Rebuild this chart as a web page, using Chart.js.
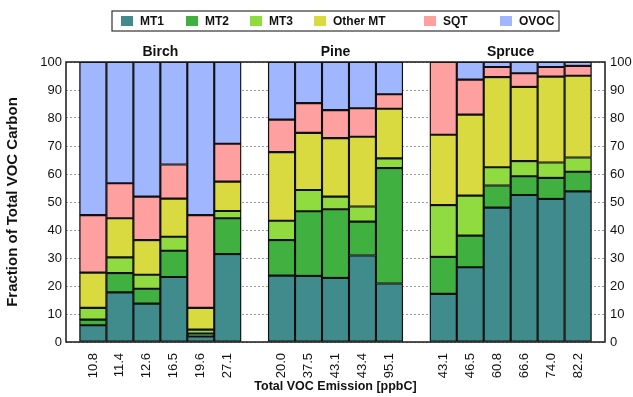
<!DOCTYPE html>
<html>
<head>
<meta charset="utf-8">
<script src="https://cdn.jsdelivr.net/npm/chart.js@4.4.1/dist/chart.umd.min.js"></script>
<style>
  html, body { margin: 0; padding: 0; background: #fff; }
  #wrap { width: 633px; height: 397px; }
</style>
</head>
<body>
<div id="wrap"><canvas id="c" width="633" height="397"></canvas></div>
<script>
// Total VOC emission per sample (ppbC); empty labels separate the tree species
const emissions = ['10.8', '11.4', '12.6', '16.5', '19.6', '27.1', '',
                   '20.0', '37.5', '43.1', '43.4', '95.1', '',
                   '43.1', '46.5', '60.8', '66.6', '74.0', '82.2'];

// Tree species and the category index range each one covers
const species = ['Birch', 'Pine', 'Spruce'];
const speciesFirst = [0, 7, 13];
const speciesLast = [5, 11, 18];

// Fraction of total VOC carbon (%) for each compound class
const mt1     = [6.0, 17.7, 13.7, 23.2, 2.0, 31.4, null, 23.7, 23.6, 22.9, 30.9, 20.9, null, 17.2, 26.7, 48.0, 52.5, 51.1, 53.8];
const mt2     = [2.0, 6.9, 5.3, 9.4, 1.0, 12.8, null, 12.7, 23.1, 24.5, 12.1, 41.2, null, 13.2, 11.3, 7.9, 6.7, 7.5, 7.0];
const mt3     = [4.2, 5.6, 5.0, 5.0, 1.4, 2.6, null, 6.9, 7.6, 4.5, 5.4, 3.5, null, 18.5, 14.3, 6.5, 5.4, 5.5, 5.1];
const otherMt = [12.6, 14.0, 12.4, 13.6, 7.8, 10.5, null, 24.5, 20.4, 20.9, 24.9, 17.7, null, 25.1, 28.9, 32.2, 26.5, 30.7, 29.2];
const sqt     = [20.5, 12.5, 15.5, 12.2, 33.1, 13.5, null, 11.6, 10.6, 10.0, 10.2, 5.2, null, 26.0, 12.5, 3.6, 4.9, 3.4, 3.5];
const ovoc    = [54.7, 43.3, 48.1, 36.6, 54.7, 29.2, null, 20.6, 14.7, 17.2, 16.5, 11.5, null, null, 6.3, 1.8, 4.0, 1.8, 1.4];

const seriesNames = ['MT1', 'MT2', 'MT3', 'Other MT', 'SQT', 'OVOC'];
const seriesValues = [mt1, mt2, mt3, otherMt, sqt, ovoc];
const seriesColors = ['#408b8b', '#40b040', '#8fdb40', '#d9d940', '#ffa0a0', '#a0b6ff'];

const FONT = '"Liberation Sans", Arial, Helvetica, sans-serif';

// Category axis with an extra half slot of empty space at both ends
class PaddedCategoryScale extends Chart.CategoryScale {
  buildTicks() {
    const ticks = super.buildTicks();
    this._startValue -= 0.5;
    this._valueRange += 1;
    return ticks;
  }
}
PaddedCategoryScale.id = 'paddedCategory';
PaddedCategoryScale.defaults = Chart.CategoryScale.defaults;
Chart.register(PaddedCategoryScale);

// Legend item left edges (square positions) inside the framed legend box
const legendX = [121, 186, 250, 314, 424, 500];

const decor = {
  id: 'decor',
  afterDatasetsDraw(chart) {
    const { ctx, chartArea: a, scales: { x } } = chart;
    ctx.save();
    // frame around the plotting area
    ctx.strokeStyle = '#1a1a1a';
    ctx.lineWidth = 1.5;
    ctx.strokeRect(a.left, a.top, a.right - a.left, a.bottom - a.top);

    // species headings above each group of bars
    ctx.font = 'bold 14px ' + FONT;
    ctx.fillStyle = '#111';
    ctx.textAlign = 'center';
    ctx.textBaseline = 'middle';
    species.forEach((name, i) => {
      const cx = (x.getPixelForValue(speciesFirst[i]) + x.getPixelForValue(speciesLast[i])) / 2;
      ctx.fillText(name, cx, a.top - 9.5);
    });

    // legend
    ctx.strokeStyle = '#333';
    ctx.lineWidth = 1.2;
    ctx.strokeRect(112, 11, 447, 20);
    ctx.font = 'bold 12px ' + FONT;
    ctx.textAlign = 'left';
    chart.data.datasets.forEach((ds, i) => {
      ctx.fillStyle = ds.backgroundColor;
      ctx.fillRect(legendX[i], 16, 12, 10);
      ctx.fillStyle = '#111';
      ctx.fillText(ds.label, legendX[i] + 19, 21.5);
    });
    ctx.restore();
  }
};

new Chart(document.getElementById('c'), {
  type: 'bar',
  data: {
    labels: emissions,
    datasets: seriesNames.map((name, i) => ({
      label: name,
      data: seriesValues[i],
      backgroundColor: seriesColors[i],
      borderColor: '#111',
      borderWidth: 1.4,
      borderSkipped: false,
      barPercentage: 1,
      categoryPercentage: 1,
      stack: 'voc'
    }))
  },
  options: {
    responsive: false,
    animation: false,
    layout: { padding: { top: 62, left: 0, right: 0, bottom: 0 } },
    plugins: { legend: { display: false }, tooltip: { enabled: false }, title: { display: false } },
    scales: {
      x: {
        type: 'paddedCategory',
        stacked: true,
        offset: true,
        grid: { display: false },
        border: { display: false },
        ticks: { autoSkip: false, minRotation: 90, maxRotation: 90, padding: 3, color: '#111', font: { family: FONT, size: 13 } },
        title: { display: true, text: 'Total VOC Emission [ppbC]', color: '#111', font: { family: FONT, size: 12.5, weight: 'bold' }, padding: { top: 0, bottom: 3 } },
        afterFit(s) { s.height = 55; }
      },
      y: {
        stacked: true,
        min: 0,
        max: 100,
        ticks: { stepSize: 10, padding: 4, color: '#111', font: { family: FONT, size: 13 } },
        grid: { color: '#9a9a9a', lineWidth: 1, drawTicks: false },
        border: { display: false, dash: [2, 2] },
        title: { display: true, text: 'Fraction of Total VOC Carbon', color: '#111', font: { family: FONT, size: 15, weight: 'bold' }, padding: { top: 4, bottom: 0 } },
        afterFit(s) { s.width = 66; }
      },
      y2: {
        position: 'right',
        min: 0,
        max: 100,
        ticks: { stepSize: 10, padding: 5, color: '#111', font: { family: FONT, size: 13 } },
        grid: { display: false, drawTicks: false },
        border: { display: false },
        afterFit(s) { s.width = 28; }
      }
    }
  },
  plugins: [decor]
});
</script>
</body>
</html>
